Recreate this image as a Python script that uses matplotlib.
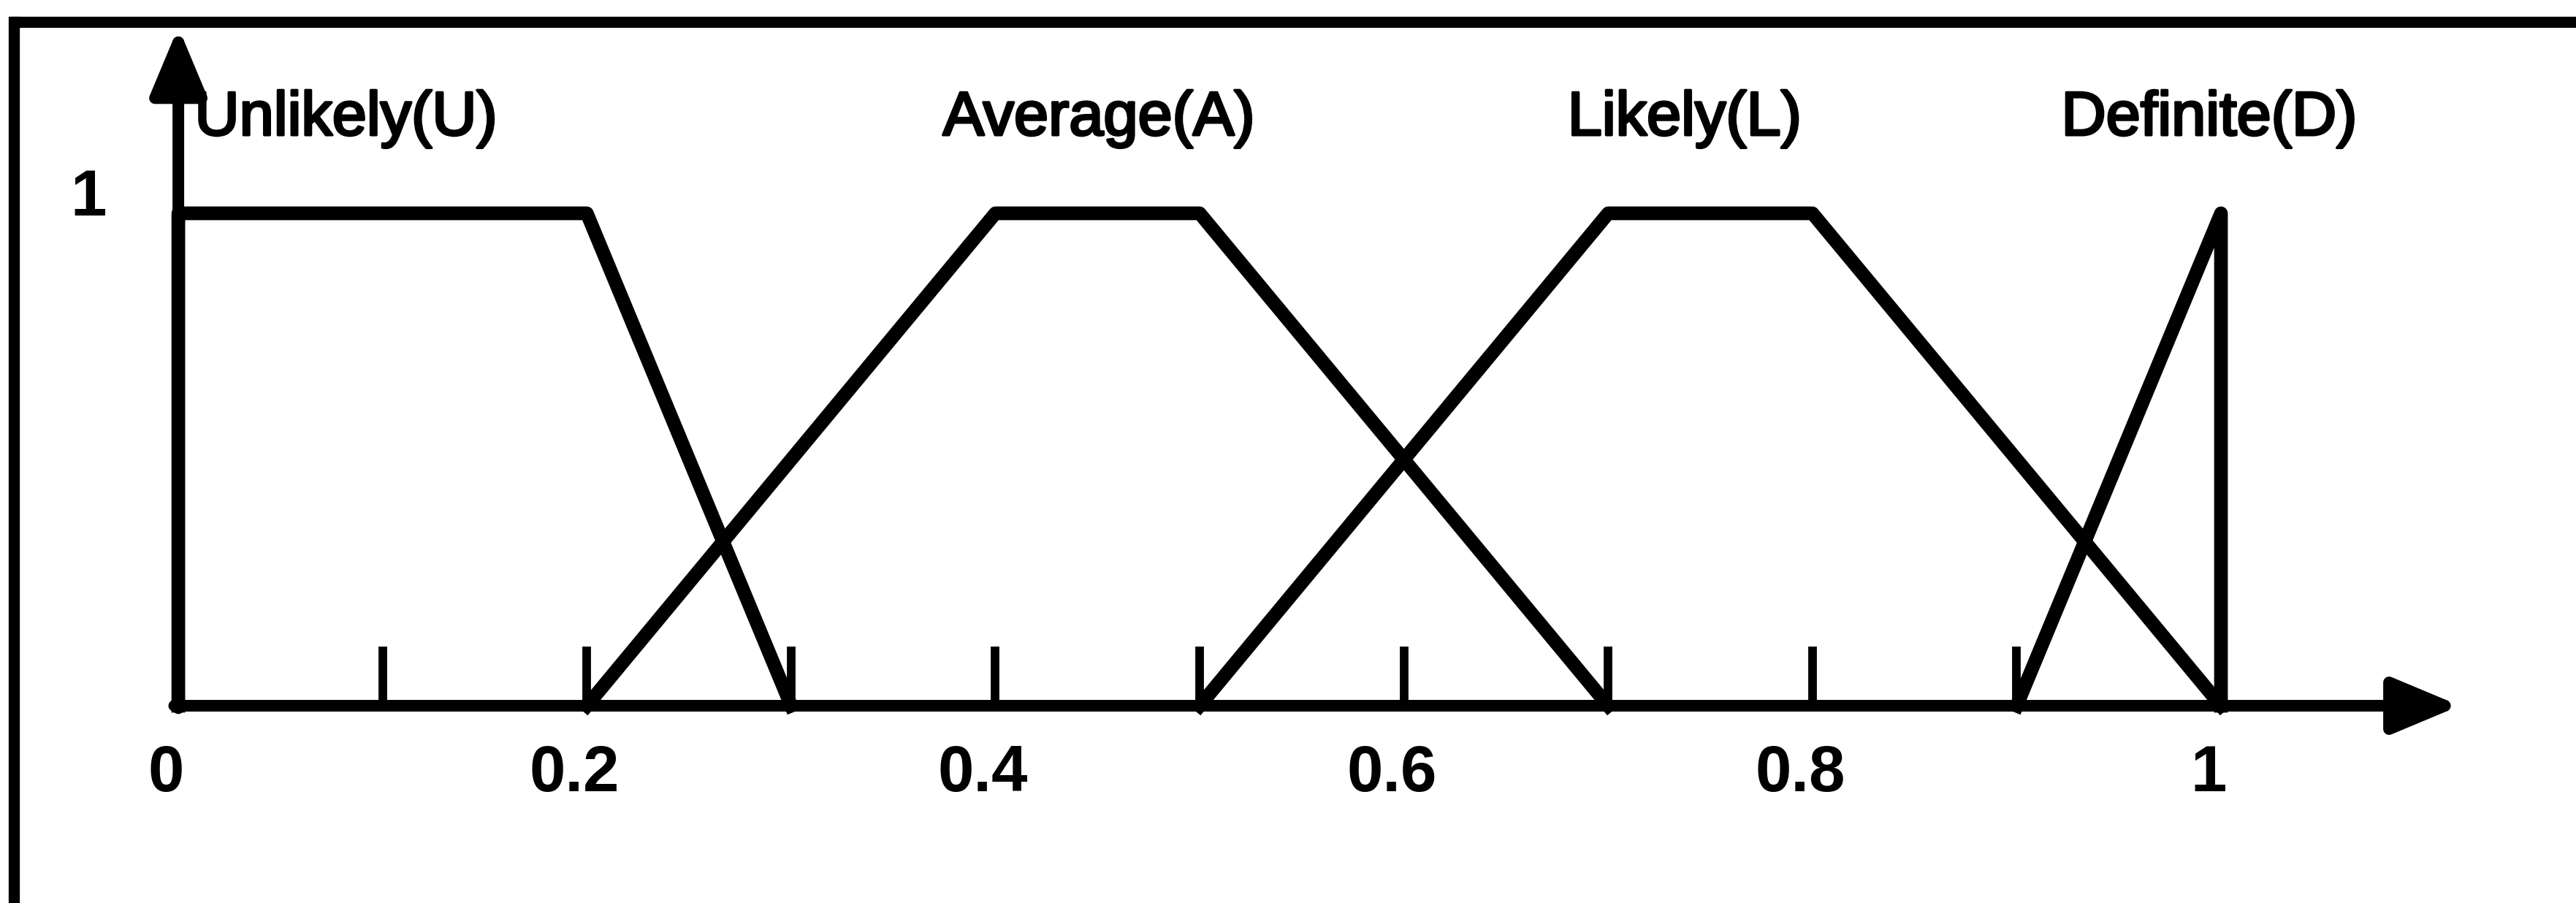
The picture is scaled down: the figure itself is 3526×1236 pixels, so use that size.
import matplotlib
matplotlib.use("Agg")
import matplotlib.pyplot as plt
import matplotlib.patheffects as pe
from matplotlib.lines import Line2D

# membership functions (x, degree)
unlikely_x = [0.0, 0.0, 0.2, 0.3]
unlikely_y = [0.0, 1.0, 1.0, 0.0]
average_x = [0.2, 0.4, 0.5, 0.7]
average_y = [0.0, 1.0, 1.0, 0.0]
likely_x = [0.5, 0.7, 0.8, 1.0]
likely_y = [0.0, 1.0, 1.0, 0.0]
definite_x = [0.9, 1.0, 1.0]
definite_y = [0.0, 1.0, 0.0]

set_names = ["Unlikely(U)", "Average(A)", "Likely(L)", "Definite(D)"]
name_x = [0.008, 0.4507, 0.7375, 0.9943]
name_align = ["left", "center", "center", "center"]

minor_ticks = [0.1, 0.2, 0.3, 0.4, 0.5, 0.6, 0.7, 0.8, 0.9]
tick_values = [0, 0.2, 0.4, 0.6, 0.8, 1]
tick_labels = ["0", "0.2", "0.4", "0.6", "0.8", "1"]

plt.rcParams["font.family"] = ["Liberation Sans", "DejaVu Sans"]

fig = plt.figure(figsize=(35.26, 12.36), dpi=100)
ax = fig.add_axes([0, 0, 1, 1])
ax.set_xlim(-0.0873, 1.1738)
ax.set_ylim(-0.4006, 1.4332)
ax.set_axis_off()

# picture frame (only top and left edges visible in the scan)
fig.add_artist(Line2D([0.004, 1.0], [0.9757, 0.9757], transform=fig.transFigure,
                      color="black", lw=11, solid_capstyle="butt"))
fig.add_artist(Line2D([0.0054, 0.0054], [0.0, 0.9757], transform=fig.transFigure,
                      color="black", lw=11, solid_capstyle="projecting"))

# axes with arrow heads
arrow = dict(arrowstyle="-|>,head_length=0.55,head_width=0.23", lw=11.5,
             color="black", mutation_scale=100, shrinkA=0, shrinkB=0)
ax.annotate("", xy=(1.117, 0), xytext=(-0.002, 0), arrowprops=arrow)
ax.annotate("", xy=(0, 1.378), xytext=(0, -0.005), arrowprops=arrow)

# small tick marks on the x axis
ax.vlines(minor_ticks, 0, 0.12, color="black", lw=8.5)

# membership curves
for xs, ys in [(unlikely_x, unlikely_y), (average_x, average_y),
               (likely_x, likely_y), (definite_x, definite_y)]:
    ax.plot(xs, ys, color="black", lw=13.5, solid_joinstyle="round")

thick = [pe.withStroke(linewidth=2.5, foreground="black")]
for name, x, ha in zip(set_names, name_x, name_align):
    ax.text(x, 1.159, name, ha=ha, va="baseline", fontsize=61,
            path_effects=thick)

for v, lab in zip(tick_values, tick_labels):
    ax.text(v - 0.006, -0.174, lab, ha="center", va="baseline",
            fontsize=64, fontweight="bold")

ax.text(-0.044, 0.996, "1", ha="center", va="baseline", fontsize=64,
        fontweight="bold")

fig.savefig("out.png", dpi=100, facecolor="white")
